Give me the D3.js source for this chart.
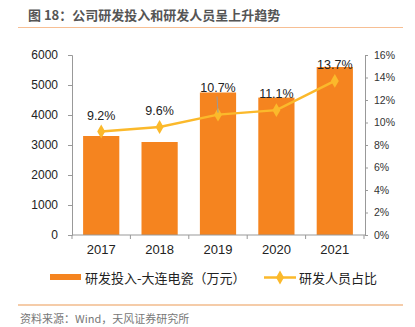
<!DOCTYPE html>
<html>
<head>
<meta charset="utf-8">
<script src="https://cdn.jsdelivr.net/npm/d3@7"></script>
<style>
  body { margin: 0; background: #fff; }
  svg { display: block; font-family: "Liberation Sans", Arial, sans-serif; }
</style>
</head>
<body>
<svg id="chart" width="415" height="327"></svg>
<script>
// data
const years = ["2017", "2018", "2019", "2020", "2021"];
const rdSpend = [3300, 3100, 4750, 4580, 5600];          // 研发投入 (万元)
const rdStaffShare = [9.2, 9.6, 10.7, 11.1, 13.7];        // 研发人员占比 (%)
const leftTicks = [0, 1000, 2000, 3000, 4000, 5000, 6000];
const rightTicks = [0, 2, 4, 6, 8, 10, 12, 14, 16];

const barColor = "#F5841F";
const lineColor = "#FBB92B";
const cjk = '"Noto Sans CJK SC", sans-serif';

const svg = d3.select("#chart");

// plot area
const plot = { left: 72, right: 364, top: 55, bottom: 235 };

// title + rule line
svg.append("text")
  .attr("x", 28).attr("y", 20)
  .attr("font-family", cjk)
  .attr("font-size", "13px")
  .attr("font-weight", "bold")
  .attr("fill", "#555")
  .text("图 18：公司研发投入和研发人员呈上升趋势");

svg.append("line")
  .attr("x1", 18).attr("x2", 403).attr("y1", 27.5).attr("y2", 27.5)
  .attr("stroke", "#F7BF94").attr("stroke-width", 1.2);

// scales
const x = d3.scaleBand()
  .domain(years)
  .range([plot.left, plot.right])
  .paddingInner(0.38)
  .paddingOuter(0.19);

const yLeft = d3.scaleLinear().domain([0, 6000]).range([plot.bottom, plot.top]);
const yRight = d3.scaleLinear().domain([0, 16]).range([plot.bottom, plot.top]);

// bars
svg.append("g").selectAll("rect")
  .data(years)
  .enter()
  .append("rect")
  .attr("x", d => x(d))
  .attr("y", (d, i) => yLeft(rdSpend[i]))
  .attr("width", x.bandwidth())
  .attr("height", (d, i) => plot.bottom - yLeft(rdSpend[i]))
  .attr("fill", barColor);

// left axis
const leftAxis = svg.append("g")
  .attr("transform", `translate(${plot.left},0)`)
  .call(d3.axisLeft(yLeft).tickValues(leftTicks).tickFormat(d3.format("d")).tickSize(4).tickPadding(10));
leftAxis.selectAll("text").attr("font-size", "12px").attr("font-family", null).attr("fill", "#222");

// right axis
const rightAxis = svg.append("g")
  .attr("transform", `translate(${plot.right + 1},0)`)
  .call(d3.axisRight(yRight).tickValues(rightTicks).tickSize(3).tickPadding(6).tickFormat(d => d + "%"));
rightAxis.selectAll("text").attr("font-size", "10.5px").attr("font-family", null).attr("fill", "#333");

// bottom axis with ticks on the category boundaries
const bottomAxis = svg.append("g")
  .attr("transform", `translate(0,${plot.bottom})`)
  .call(d3.axisBottom(x).tickSize(0).tickPadding(10));
bottomAxis.selectAll("text").attr("font-size", "13px").attr("font-family", null).attr("fill", "#222");
bottomAxis.select(".domain").attr("d", `M${plot.left},0H${plot.right + 1}`);
bottomAxis.selectAll(".sep")
  .data(d3.range(years.length + 1))
  .enter()
  .append("line")
  .attr("x1", i => plot.left + i * x.step())
  .attr("x2", i => plot.left + i * x.step())
  .attr("y1", 0).attr("y2", 4)
  .attr("stroke", "#999");

svg.selectAll(".domain, .tick line").attr("stroke", "#999");
svg.selectAll(".domain").attr("fill", "none");

// line series
const cx = d => x(d) + x.bandwidth() / 2;
const line = d3.line()
  .x(d => cx(d))
  .y((d, i) => yRight(rdStaffShare[i]));

svg.append("path")
  .datum(years)
  .attr("d", line)
  .attr("fill", "none")
  .attr("stroke", lineColor)
  .attr("stroke-width", 2.5);

const diamond = d3.symbol().type(d3.symbolDiamond).size(55);
svg.append("g").selectAll("path")
  .data(years)
  .enter()
  .append("path")
  .attr("d", diamond)
  .attr("transform", (d, i) => `translate(${cx(d)},${yRight(rdStaffShare[i])})`)
  .attr("fill", lineColor);

// value labels; the 2019 label was dragged up above its bar with a leader line
const liftedYear = "2019";
const labelY = (d, i) => d === liftedYear ? yLeft(rdSpend[i]) - 1 : yRight(rdStaffShare[i]) - 12;

svg.append("line")
  .attr("x1", cx(liftedYear) - 1).attr("x2", cx(liftedYear))
  .attr("y1", yLeft(rdSpend[years.indexOf(liftedYear)]) + 4)
  .attr("y2", yRight(rdStaffShare[years.indexOf(liftedYear)]) - 2)
  .attr("stroke", "#999").attr("stroke-width", 1);

svg.append("g").selectAll("text")
  .data(years)
  .enter()
  .append("text")
  .attr("x", d => cx(d))
  .attr("y", labelY)
  .attr("text-anchor", "middle")
  .attr("font-size", "12.5px")
  .attr("fill", "#222")
  .text((d, i) => rdStaffShare[i].toFixed(1) + "%");

// legend
const legend = svg.append("g").attr("font-family", cjk).attr("font-size", "13px").attr("fill", "#222");
legend.append("rect")
  .attr("x", 50).attr("y", 274).attr("width", 31).attr("height", 6)
  .attr("fill", barColor);
legend.append("text")
  .attr("x", 85).attr("y", 282.5)
  .text("研发投入-大连电瓷（万元）");
legend.append("line")
  .attr("x1", 264).attr("x2", 296).attr("y1", 277.5).attr("y2", 277.5)
  .attr("stroke", lineColor).attr("stroke-width", 2.5);
legend.append("path")
  .attr("d", diamond)
  .attr("transform", "translate(280,277.5)")
  .attr("fill", lineColor);
legend.append("text")
  .attr("x", 299).attr("y", 282.5)
  .text("研发人员占比");

// footer
svg.append("line")
  .attr("x1", 18).attr("x2", 403).attr("y1", 305).attr("y2", 305)
  .attr("stroke", "#EC9A55").attr("stroke-width", 1.2);

svg.append("text")
  .attr("x", 20).attr("y", 323)
  .attr("font-family", cjk)
  .attr("font-size", "11px")
  .attr("fill", "#777")
  .text("资料来源：Wind，天风证券研究所");
</script>
</body>
</html>
